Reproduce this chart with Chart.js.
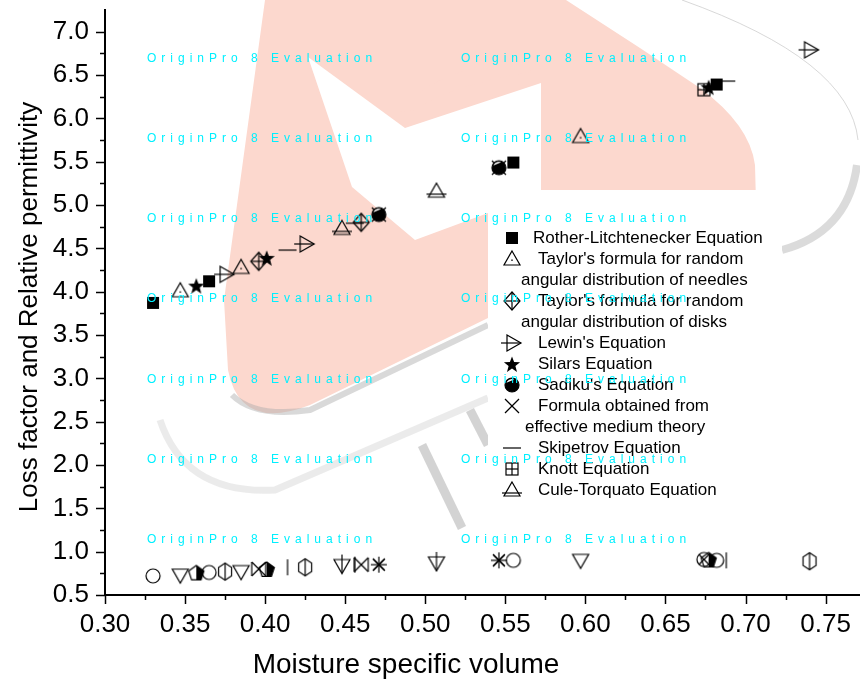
<!DOCTYPE html>
<html>
<head>
<meta charset="utf-8">
<script src="https://cdn.jsdelivr.net/npm/chart.js@4.4.0/dist/chart.umd.min.js"></script>
<style>
    html, body { margin: 0; padding: 0; background: #fff; }
    #wrap { width: 860px; height: 682px; }
</style>
</head>
<body>
<div id="wrap"><canvas id="chart" width="860" height="682"></canvas></div>
<script>
// ---- data ----
// each equation: moisture specific volume, relative permittivity (upper), loss factor (lower)
const rotherX = [0.330, 0.365, 0.555, 0.682];
const rotherEps = [3.87, 4.12, 5.49, 6.39];
const rotherLoss = [0.72, 0.76, 0.90, 0.90];

const needlesX = [0.347, 0.385, 0.597];
const needlesEps = [4.01, 4.28, 5.79];
const needlesLoss = [0.73, 0.77, 0.90];

const disksX = [0.396, 0.460];
const disksEps = [4.35, 4.80];
const disksLoss = [0.80, 0.85];

const lewinX = [0.375, 0.425, 0.740];
const lewinEps = [4.20, 4.55, 6.79];
const lewinLoss = [0.77, 0.82, 0.89];

const silarsX = [0.357, 0.401, 0.677];
const silarsEps = [4.07, 4.39, 6.36];
const silarsLoss = [0.76, 0.80, 0.91];

const sadikuX = [0.471, 0.546];
const sadikuEps = [4.89, 5.43];
const sadikuLoss = [0.85, 0.90];

const emtX = [0.471, 0.546];
const emtEps = [4.89, 5.43];
const emtLoss = [0.85, 0.90];

const skipX = [0.414, 0.456, 0.688];
const skipEps = [4.48, 4.79, 6.43];
const skipLoss = [0.82, 0.85, 0.90];

const knottX = [0.674];
const knottEps = [6.33];
const knottLoss = [0.91];

const culeX = [0.448, 0.507];
const culeEps = [4.73, 5.16];
const culeLoss = [0.84, 0.87];

const legendLabels = [
    ["Rother-Litchtenecker Equation"],
    ["Taylor's formula for random", "angular distribution of needles"],
    ["Taylor's formula for random", "angular distribution of disks"],
    ["Lewin's Equation"],
    ["Silars Equation"],
    ["Sadiku's Equation"],
    ["Formula obtained from", "effective medium theory"],
    ["Skipetrov Equation"],
    ["Knott Equation"],
    ["Cule-Torquato Equation"]
];

const xTicks = [0.30, 0.35, 0.40, 0.45, 0.50, 0.55, 0.60, 0.65, 0.70, 0.75];
const yTicks = [0.5, 1.0, 1.5, 2.0, 2.5, 3.0, 3.5, 4.0, 4.5, 5.0, 5.5, 6.0, 6.5, 7.0];

const xTitle = "Moisture specific volume";
const yTitle = "Loss factor and Relative permittivity";
const watermark = "OriginPro 8 Evaluation";

const FONT = '"Liberation Sans", Arial, sans-serif';

// ---- marker glyphs ----
function mk(fn) {
    const c = document.createElement("canvas");
    c.width = 26; c.height = 26;
    const g = c.getContext("2d");
    g.translate(13, 13);
    g.lineWidth = 1.2;
    g.strokeStyle = "#000";
    g.fillStyle = "#000";
    fn(g);
    return c;
}
function poly(g, pts) {
    g.beginPath();
    pts.forEach(([x, y], i) => i ? g.lineTo(x, y) : g.moveTo(x, y));
    g.closePath();
}
function seg(g, x1, y1, x2, y2) {
    g.beginPath(); g.moveTo(x1, y1); g.lineTo(x2, y2); g.stroke();
}
const triUp = [[0, -8], [8, 6], [-8, 6]];
const triDown = [[-8, -6], [8, -6], [0, 8]];

const markers = {
    rother: mk(g => g.fillRect(-6, -6, 12, 12)),
    needles: mk(g => { poly(g, triUp); g.stroke(); g.fillRect(-0.7, 0.5, 1.4, 1.4); }),
    disks: mk(g => { poly(g, [[0, -9], [8, 0], [0, 9], [-8, 0]]); g.stroke(); seg(g, 0, -9, 0, 9); seg(g, -8, 0, 8, 0); }),
    lewin: mk(g => { poly(g, [[-5, -8], [9, 0], [-5, 8]]); g.stroke(); seg(g, -11, 0, 9, 0); }),
    silars: mk(g => {
        const pts = [];
        for (let k = 0; k < 10; k++) {
            const a = -Math.PI / 2 + k * Math.PI / 5;
            const r = k % 2 ? 3.6 : 8.5;
            pts.push([r * Math.cos(a), r * Math.sin(a) + 1]);
        }
        poly(g, pts); g.fill();
    }),
    sadiku: mk(g => {
        g.beginPath(); g.arc(0, 0, 7, 0, Math.PI * 2); g.fill();
        g.fillStyle = "#fff";
        g.beginPath(); g.arc(0, 0, 6, Math.PI * 1.12, Math.PI * 1.62); g.closePath(); g.fill();
        g.beginPath(); g.arc(0, 0, 7, 0, Math.PI * 2); g.stroke();
    }),
    emt: mk(g => { seg(g, -7, -7, 7, 7); seg(g, -7, 7, 7, -7); }),
    skip: mk(g => seg(g, -9, 0, 9, 0)),
    knott: mk(g => { g.strokeRect(-6, -6, 12, 12); seg(g, 0, -6, 0, 6); seg(g, -6, 0, 6, 0); }),
    cule: mk(g => { poly(g, triUp); g.stroke(); seg(g, -10, 3, 10, 3); }),

    rotherL: mk(g => { g.beginPath(); g.arc(0, 0, 7, 0, Math.PI * 2); g.stroke(); }),
    needlesL: mk(g => { poly(g, triDown); g.stroke(); }),
    disksL: mk(g => { seg(g, -7, -7, 7, 7); seg(g, -7, 7, 7, -7); seg(g, -7, -7, -7, 7); seg(g, 7, -7, 7, 7); }),
    lewinL: mk(g => {
        const pts = [];
        for (let k = 0; k < 6; k++) {
            const a = -Math.PI / 2 + k * Math.PI / 3;
            pts.push([7.5 * Math.cos(a), 8.5 * Math.sin(a)]);
        }
        poly(g, pts); g.stroke(); seg(g, 0, -8.5, 0, 8.5);
    }),
    silarsL: mk(g => {
        const pts = [];
        for (let k = 0; k < 5; k++) {
            const a = -Math.PI / 2 + k * 2 * Math.PI / 5;
            pts.push([8 * Math.cos(a), 8 * Math.sin(a) + 1]);
        }
        g.save(); poly(g, pts); g.clip(); g.fillRect(0, -9, 10, 19); g.restore();
        poly(g, pts); g.stroke();
    }),
    sadikuL: mk(g => {
        for (let k = 0; k < 4; k++) {
            const a = k * Math.PI / 4;
            seg(g, -8 * Math.cos(a), -8 * Math.sin(a), 8 * Math.cos(a), 8 * Math.sin(a));
        }
    }),
    emtL: mk(g => { seg(g, -6, -6, 6, 6); seg(g, -6, 6, 6, -6); }),
    skipL: mk(g => seg(g, 0, -8, 0, 8)),
    knottL: mk(g => { g.beginPath(); g.arc(0, 0, 7, 0, Math.PI * 2); g.stroke(); seg(g, -5, -5, 5, 5); seg(g, -5, 5, 5, -5); }),
    culeL: mk(g => { poly(g, triDown); g.stroke(); seg(g, 0, -11, 0, 8); })
};

function pts(xs, ys) { return xs.map((x, i) => ({ x: x, y: ys[i] })); }

const series = [
    ["rother", rotherX, rotherEps, rotherLoss],
    ["needles", needlesX, needlesEps, needlesLoss],
    ["disks", disksX, disksEps, disksLoss],
    ["lewin", lewinX, lewinEps, lewinLoss],
    ["silars", silarsX, silarsEps, silarsLoss],
    ["sadiku", sadikuX, sadikuEps, sadikuLoss],
    ["emt", emtX, emtEps, emtLoss],
    ["skip", skipX, skipEps, skipLoss],
    ["knott", knottX, knottEps, knottLoss],
    ["cule", culeX, culeEps, culeLoss]
];

const datasets = [];
series.forEach(([key, xs, eps, loss], i) => {
    datasets.push({ label: legendLabels[i].join(" "), data: pts(xs, loss), pointStyle: markers[key + "L"], pointRadius: 8, showLine: false });
});
series.forEach(([key, xs, eps, loss], i) => {
    datasets.push({ label: legendLabels[i].join(" "), data: pts(xs, eps), pointStyle: markers[key], pointRadius: 8, showLine: false });
});

// ---- background logo + watermark text ----
const backdrop = {
    id: "backdrop",
    beforeDraw(chart) {
        const g = chart.ctx;
        g.save();
        g.fillStyle = "rgb(252,216,206)";
        g.beginPath();
        g.moveTo(265, 0); g.lineTo(566, 0); g.lineTo(640, 48); g.lineTo(700, 88);
        g.quadraticCurveTo(750, 125, 755, 165); g.lineTo(757, 240); g.lineTo(488, 318);
        g.lineTo(310, 405); g.quadraticCurveTo(240, 432, 228, 370); g.lineTo(224, 300);
        g.closePath(); g.fill();

        g.fillStyle = "#fff";
        g.beginPath();
        g.moveTo(308, 57); g.lineTo(405, 128); g.lineTo(541, 83); g.lineTo(541, 190);
        g.lineTo(488, 213); g.lineTo(415, 240); g.lineTo(352, 187);
        g.closePath(); g.fill();

        g.fillStyle = "rgb(252,216,206)";
        g.beginPath();
        g.moveTo(400, 112); g.quadraticCurveTo(430, 70, 527, 57); g.lineTo(531, 72);
        g.quadraticCurveTo(450, 85, 415, 110); g.closePath(); g.fill();

        g.lineCap = "butt";
        g.strokeStyle = "rgba(170,170,170,0.45)";
        g.lineWidth = 6;
        g.beginPath(); g.moveTo(232, 395); g.quadraticCurveTo(255, 418, 310, 410); g.lineTo(488, 325); g.stroke();
        g.strokeStyle = "rgba(210,210,210,0.45)";
        g.lineWidth = 7;
        g.beginPath(); g.moveTo(160, 420); g.quadraticCurveTo(185, 495, 275, 490); g.lineTo(488, 398); g.stroke();
        g.strokeStyle = "rgba(175,175,175,0.55)";
        g.lineWidth = 9;
        g.beginPath(); g.moveTo(422, 445); g.lineTo(462, 528); g.stroke();
        g.beginPath(); g.moveTo(470, 410); g.lineTo(488, 445); g.stroke();
        g.lineWidth = 1;
        g.strokeStyle = "rgba(200,200,200,0.7)";
        g.beginPath(); g.moveTo(682, 0); g.quadraticCurveTo(850, 60, 858, 140); g.stroke();
        g.lineWidth = 8;
        g.strokeStyle = "rgba(190,190,190,0.55)";
        g.beginPath(); g.moveTo(857, 165); g.quadraticCurveTo(848, 232, 782, 250); g.stroke();

        // legend box
        g.fillStyle = "#fff";
        g.fillRect(488, 190, 294, 322);
        g.restore();
    },
    afterDraw(chart) {
        const g = chart.ctx;
        const xs = chart.scales.x, ys = chart.scales.y;
        const left = chart.chartArea.left, bottom = chart.chartArea.bottom;
        g.save();
        g.strokeStyle = "#000";
        g.lineWidth = 1.5;
        // ticks: majors from the tick arrays, minors halfway between
        const xMinor = xTicks.slice(0, -1).map((v, i) => (v + xTicks[i + 1]) / 2).concat([xTicks[xTicks.length - 1] + 0.025]);
        const yMinor = yTicks.slice(0, -1).map((v, i) => (v + yTicks[i + 1]) / 2).concat([yTicks[yTicks.length - 1] + 0.25]);
        xTicks.forEach(v => { const p = Math.round(xs.getPixelForValue(v)) + 0.5; seg(g, p, bottom, p, bottom + 9); });
        xMinor.forEach(v => { const p = Math.round(xs.getPixelForValue(v)) + 0.5; if (p < chart.chartArea.right) seg(g, p, bottom, p, bottom + 5); });
        yTicks.forEach(v => { const p = Math.round(ys.getPixelForValue(v)) + 0.5; seg(g, left - 9, p, left, p); });
        yMinor.forEach(v => { const p = Math.round(ys.getPixelForValue(v)) + 0.5; if (p > chart.chartArea.top + 2) seg(g, left - 5, p, left, p); });

        // tick labels
        g.fillStyle = "#000";
        g.font = "26px " + FONT;
        g.textAlign = "center"; g.textBaseline = "middle";
        xTicks.forEach(v => g.fillText(v.toFixed(2), xs.getPixelForValue(v), 625));
        g.textAlign = "right";
        yTicks.forEach(v => g.fillText(v.toFixed(1), 89, ys.getPixelForValue(v)));

        // axis titles
        g.textAlign = "center";
        g.font = "28px " + FONT;
        g.fillText(xTitle, 406, 665);
        g.font = "26px " + FONT;
        g.save();
        g.translate(30, 307);
        g.rotate(-Math.PI / 2);
        g.fillText(yTitle, 0, 0);
        g.restore();

        // legend
        const keys = series.map(s => s[0]);
        let k = 0;
        g.font = "17px " + FONT;
        g.textAlign = "left";
        legendLabels.forEach((lines, i) => {
            const y = 238 + 21 * k;
            const m = markers[keys[i]];
            g.drawImage(m, 512 - m.width / 2, y - m.height / 2);
            lines.forEach((t, j) => {
                const tx = j === 0 ? (i === 0 ? 533 : 538) : (keys[i] === "emt" ? 525 : 521);
                g.fillText(t, tx, 238 + 21 * k);
                k++;
            });
        });

        // evaluation watermark
        g.font = "12px " + FONT;
        g.fillStyle = "rgb(0,240,255)";
        const rows = [59, 139, 219, 299, 380, 460, 540];
        [147, 461].forEach(x0 => rows.forEach(y => {
            let x = x0;
            for (const ch of watermark) {
                g.fillText(ch, x, y);
                x += g.measureText(ch).width + 5;
            }
        }));
        g.restore();
    }
};

new Chart(document.getElementById("chart"), {
    type: "scatter",
    data: { datasets: datasets },
    options: {
        responsive: false,
        animation: false,
        events: [],
        layout: { autoPadding: false, padding: { top: 10, right: 0, left: 0, bottom: 0 } },
        plugins: { legend: { display: false }, tooltip: { enabled: false } },
        scales: {
            x: {
                type: "linear", min: 0.30, max: 0.7715,
                grid: { display: false, drawTicks: false },
                border: { display: true, color: "#000", width: 2 },
                ticks: { display: false },
                afterFit(s) { s.height = 87; }
            },
            y: {
                type: "linear", min: 0.5, max: 7.25,
                grid: { display: false, drawTicks: false },
                border: { display: true, color: "#000", width: 2 },
                ticks: { display: false },
                afterFit(s) { s.width = 105; }
            }
        }
    },
    plugins: [backdrop]
});
</script>
</body>
</html>
